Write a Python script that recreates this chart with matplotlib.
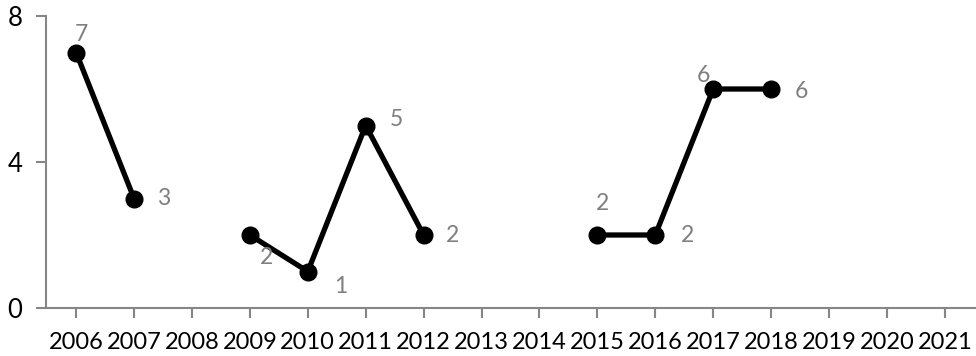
import matplotlib.pyplot as plt
import numpy as np

plt.rcParams['font.family'] = ['Lato', 'DejaVu Sans']

years = [str(y) for y in range(2006, 2022)]
values = [7, 3, np.nan, 2, 1, 5, 2, np.nan, np.nan, 2, 2, 6, 6, np.nan, np.nan, np.nan]
# label offsets in points (dx, dy)
offsets = [(4, 13), (21, 0), (12, -16), (24, -11), (22, 4), (21, 0),
           (4, 23), (23, 0), (-7, 10), (22, -2)]

fig = plt.figure(figsize=(9.76, 3.56), dpi=100)
ax = fig.add_axes([46/976, 48/356, 1 - 47/976, (308-16)/356])
x = np.arange(len(years))
ax.plot(x, values, color="black", lw=3.8, marker="o", markersize=12)

k = 0
for i, v in enumerate(values):
    if np.isnan(v):
        continue
    dx, dy = offsets[k]
    k += 1
    ax.annotate(str(int(v)), (i, v), xytext=(dx, dy), textcoords="offset points",
                ha="center", va="center", fontsize=16.5, color="#7f7f7f")

ax.set_xlim(-0.52, 15.52)
ax.set_ylim(0, 8)
ax.set_yticks([0, 4, 8])
ax.set_xticks(x)
ax.set_xticklabels(years)
for s in ["top", "right"]:
    ax.spines[s].set_visible(False)
for s in ["left", "bottom"]:
    ax.spines[s].set_color("#868686")
    ax.spines[s].set_linewidth(1.5)
ax.tick_params(axis="both", colors="#868686", length=7, width=1.5, labelcolor="black", labelsize=17)
ax.tick_params(axis="y", labelsize=18.5, pad=10)
ax.tick_params(axis="x", pad=10)
fig.savefig("out.png")
